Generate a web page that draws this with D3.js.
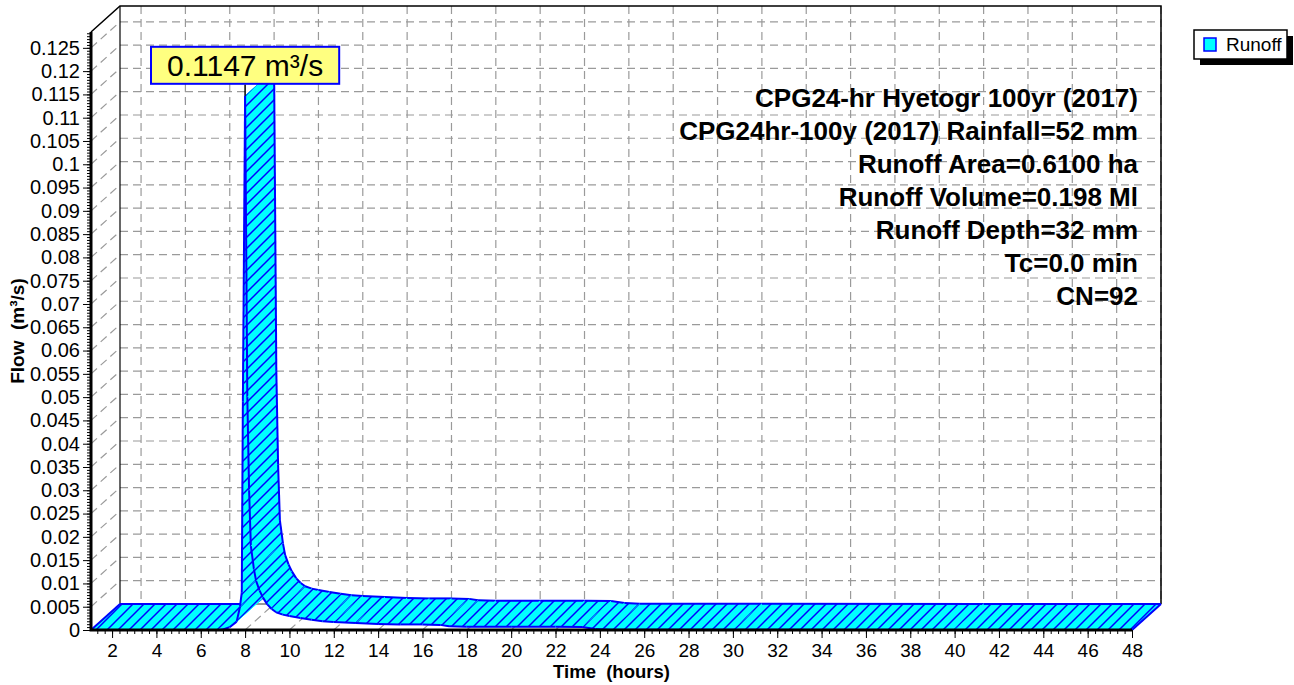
<!DOCTYPE html>
<html>
<head>
<meta charset="utf-8">
<script src="https://cdn.jsdelivr.net/npm/d3@7"></script>
<style>
  body { margin: 0; background: #fff; }
  svg { display: block; font-family: "Liberation Sans", Arial, sans-serif; }
</style>
</head>
<body>
<svg id="chart" width="1294" height="685"></svg>
<script>
const timeHours = [1.05, 6.8, 7.0, 7.3, 7.62, 7.77, 7.85, 7.9, 8.0, 8.1, 8.18, 8.26, 8.4, 8.5,
  8.65, 8.8, 9.0, 9.2, 9.4, 9.7, 10.0, 10.5, 11.0, 11.5, 12.0, 13.0, 14.0, 15.0, 16.0, 16.8,
  17.2, 18.0, 20.0, 22.0, 23.2, 23.8, 24.5, 30.0, 40.0, 48.0];
const runoffFlow = [0, 0, 0.0001, 0.0006, 0.0018, 0.005, 0.008, 0.049, 0.1147, 0.05, 0.03, 0.018,
  0.013, 0.0105, 0.0085, 0.007, 0.0055, 0.0045, 0.0038, 0.0033, 0.003, 0.0026, 0.0022, 0.0019,
  0.0017, 0.0015, 0.0013, 0.0012, 0.0012, 0.0011, 0.0008, 0.0007, 0.0007, 0.00068, 0.00065,
  0.0002, 0.00005, 0.00003, 0.00002, 0.00002];

const xTicks = [2, 4, 6, 8, 10, 12, 14, 16, 18, 20, 22, 24, 26, 28, 30, 32, 34, 36, 38, 40, 42, 44, 46, 48];
const yTicks = [0, 0.005, 0.01, 0.015, 0.02, 0.025, 0.03, 0.035, 0.04, 0.045, 0.05, 0.055, 0.06,
  0.065, 0.07, 0.075, 0.08, 0.085, 0.09, 0.095, 0.1, 0.105, 0.11, 0.115, 0.12, 0.125];
const yTickLabels = ["0", "0.005", "0.01", "0.015", "0.02", "0.025", "0.03", "0.035", "0.04",
  "0.045", "0.05", "0.055", "0.06", "0.065", "0.07", "0.075", "0.08", "0.085", "0.09", "0.095",
  "0.1", "0.105", "0.11", "0.115", "0.12", "0.125"];

const infoLines = [
  "CPG24-hr Hyetogr 100yr (2017)",
  "CPG24hr-100y (2017) Rainfall=52 mm",
  "Runoff Area=0.6100 ha",
  "Runoff Volume=0.198 Ml",
  "Runoff Depth=32 mm",
  "Tc=0.0 min",
  "CN=92"
];
const peakLabel = "0.1147 m³/s";
const seriesName = "Runoff";

// --- layout -----------------------------------------------------
const svg = d3.select("#chart");
const x = d3.scaleLinear().domain([1.05, 48]).range([91, 1132]);
const y = d3.scaleLinear().domain([0, 0.1284]).range([630, 32]);
const DX = 29, DY = -26;   // 3D depth offset
const gridColor = "#9a9a9a";

const defs = svg.append("defs");
const pat = defs.append("pattern")
  .attr("id", "hatch")
  .attr("patternUnits", "userSpaceOnUse")
  .attr("width", 11).attr("height", 11);
pat.append("path")
  .attr("d", "M-1,1 l2,-2 M0,11 l11,-11 M10,12 l2,-2")
  .attr("stroke", "#0000ff")
  .attr("stroke-width", 1.5);

// back wall grid
const grid = svg.append("g")
  .attr("stroke", gridColor)
  .attr("stroke-width", 1.2)
  .attr("stroke-dasharray", "8,5")
  .attr("fill", "none");

grid.selectAll(".hgrid")
  .data(yTicks.filter(v => v > 0))
  .enter().append("line")
  .attr("x1", x.range()[0] + DX).attr("x2", x.range()[1] + DX)
  .attr("y1", d => y(d) + DY).attr("y2", d => y(d) + DY);

grid.selectAll(".vgrid")
  .data(xTicks)
  .enter().append("line")
  .attr("x1", d => x(d) + DX).attr("x2", d => x(d) + DX)
  .attr("y1", y.range()[1] + DY).attr("y2", y(0) + DY);

// left wall diagonals
grid.selectAll(".lgrid")
  .data(yTicks.filter(v => v > 0))
  .enter().append("line")
  .attr("x1", x.range()[0]).attr("x2", x.range()[0] + DX)
  .attr("y1", d => y(d)).attr("y2", d => y(d) + DY);

// floor diagonals
grid.selectAll(".fgrid")
  .data(xTicks)
  .enter().append("line")
  .attr("x1", d => x(d)).attr("x2", d => x(d) + DX)
  .attr("y1", y(0)).attr("y2", y(0) + DY);

// wall frame
const x0 = x.range()[0], x1 = x.range()[1];
const yTop = y.range()[1], y0 = y(0);
const frame = svg.append("g").attr("stroke", "#000").attr("fill", "none");
frame.append("path")
  .attr("stroke-width", 1.5)
  .attr("d", `M${x0},${yTop} L${x0 + DX},${yTop + DY} L${x1 + DX},${yTop + DY} L${x1 + DX},${y0 + DY}`);
frame.append("line")
  .attr("stroke-width", 1.2)
  .attr("x1", x0 + DX).attr("x2", x0 + DX)
  .attr("y1", yTop + DY).attr("y2", y0 + DY);
frame.append("line")
  .attr("stroke-width", 1)
  .attr("stroke", "#333")
  .attr("x1", x0 + DX).attr("x2", x1 + DX)
  .attr("y1", y0 + DY).attr("y2", y0 + DY);

// --- 3D ribbon ----------------------------------------------------
const front = timeHours.map((t, i) => [x(t), y(runoffFlow[i])]);
const back = front.map(p => [p[0] + DX, p[1] + DY]);
const ribbon = svg.append("g");
const line = d3.line();

for (let i = 0; i < front.length - 1; i++) {
  const quad = [front[i], front[i + 1], back[i + 1], back[i]];
  const q = ribbon.append("g");
  q.append("path")
    .attr("d", line(quad) + "Z")
    .attr("fill", "#00ffff")
    .attr("stroke", "#00ffff")
    .attr("stroke-width", 0.8);
  q.append("path")
    .attr("d", line(quad) + "Z")
    .attr("fill", "url(#hatch)");
  q.append("path")
    .attr("d", line([front[i], front[i + 1]]))
    .attr("stroke", "#0000ff").attr("stroke-width", 2).attr("fill", "none");
  q.append("path")
    .attr("d", line([back[i], back[i + 1]]))
    .attr("stroke", "#0000ff").attr("stroke-width", 2).attr("fill", "none");
}
// end caps
[0, front.length - 1].forEach(i => {
  ribbon.append("path")
    .attr("d", line([front[i], back[i]]))
    .attr("stroke", "#0000ff").attr("stroke-width", 2).attr("fill", "none");
});

// --- axes ---------------------------------------------------------
const yMinor = d3.range(0, 0.1284, 0.000625);
svg.append("g")
  .attr("transform", `translate(${x0},0)`)
  .call(d3.axisLeft(y).tickValues(yMinor).tickSize(4).tickFormat(""))
  .call(g => g.select(".domain").remove())
  .call(g => g.selectAll("line").attr("stroke", "#000"));

const yAxis = svg.append("g")
  .attr("transform", `translate(${x0},0)`)
  .call(d3.axisLeft(y).tickValues(yTicks).tickSize(8).tickPadding(3)
    .tickFormat((d, i) => yTickLabels[i]));
yAxis.select(".domain").remove();
yAxis.selectAll("text")
  .attr("font-size", 20)
  .attr("font-family", "'Liberation Sans', Arial, sans-serif")
  .attr("fill", "#000");

const xMinor = d3.range(1.3333, 48.01, 1 / 3);
svg.append("g")
  .attr("transform", `translate(0,${y0})`)
  .call(d3.axisBottom(x).tickValues(xMinor).tickSize(4).tickFormat(""))
  .call(g => g.select(".domain").remove())
  .call(g => g.selectAll("line").attr("stroke", "#000"));

const xAxis = svg.append("g")
  .attr("transform", `translate(0,${y0})`)
  .call(d3.axisBottom(x).tickValues(xTicks).tickSize(8).tickPadding(6)
    .tickFormat(d3.format("d")));
xAxis.select(".domain").remove();
xAxis.selectAll("text")
  .attr("font-size", 19)
  .attr("font-family", "'Liberation Sans', Arial, sans-serif")
  .attr("fill", "#000");

// heavy front axis lines
svg.append("path")
  .attr("d", `M${x0},${yTop} L${x0},${y0} L${x1},${y0}`)
  .attr("stroke", "#000").attr("stroke-width", 3).attr("fill", "none");

// axis titles
svg.append("text")
  .attr("transform", `translate(24,${(yTop + y0) / 2}) rotate(-90)`)
  .attr("text-anchor", "middle")
  .attr("font-size", 19).attr("font-weight", "bold")
  .style("white-space", "pre")
  .text("Flow  (m³/s)");

svg.append("text")
  .attr("x", (x0 + x1) / 2).attr("y", 678)
  .attr("text-anchor", "middle")
  .attr("font-size", 18.5).attr("font-weight", "bold")
  .style("white-space", "pre")
  .text("Time  (hours)");

// info block
svg.append("g").selectAll("text")
  .data(infoLines)
  .enter().append("text")
  .attr("x", 1138)
  .attr("y", (d, i) => 107 + i * 33)
  .attr("text-anchor", "end")
  .attr("font-size", 26).attr("font-weight", "bold")
  .text(d => d);

// peak callout
const iPeak = d3.maxIndex(runoffFlow);
const px = x(timeHours[iPeak]), py = y(runoffFlow[iPeak]);
const boxBottom = py - 12, boxH = 37;
const callout = svg.append("g");
const ctext = callout.append("text")
  .attr("x", px).attr("y", boxBottom - boxH + 29)
  .attr("text-anchor", "middle")
  .attr("font-size", 30)
  .text(peakLabel);
const tw = ctext.node().getComputedTextLength();
callout.insert("rect", "text")
  .attr("x", px - tw / 2 - 16).attr("y", boxBottom - boxH)
  .attr("width", tw + 32).attr("height", boxH)
  .attr("fill", "#ffff80")
  .attr("stroke", "#0000ff").attr("stroke-width", 2);
callout.append("line")
  .attr("x1", px).attr("x2", px)
  .attr("y1", boxBottom + 1).attr("y2", py)
  .attr("stroke", "#000").attr("stroke-width", 1.5);

// legend
const lg = svg.append("g").attr("transform", "translate(1194,30)");
lg.append("rect").attr("x", 6).attr("y", 6).attr("width", 93).attr("height", 29).attr("fill", "#000");
lg.append("rect").attr("width", 93).attr("height", 29)
  .attr("fill", "#fff").attr("stroke", "#000").attr("stroke-width", 1.5);
lg.append("rect").attr("x", 10).attr("y", 8).attr("width", 12).attr("height", 13)
  .attr("fill", "#00ffff").attr("stroke", "#0000ff").attr("stroke-width", 1.5);
lg.append("text").attr("x", 32).attr("y", 21)
  .attr("font-size", 19)
  .text(seriesName);
</script>
</body>
</html>
